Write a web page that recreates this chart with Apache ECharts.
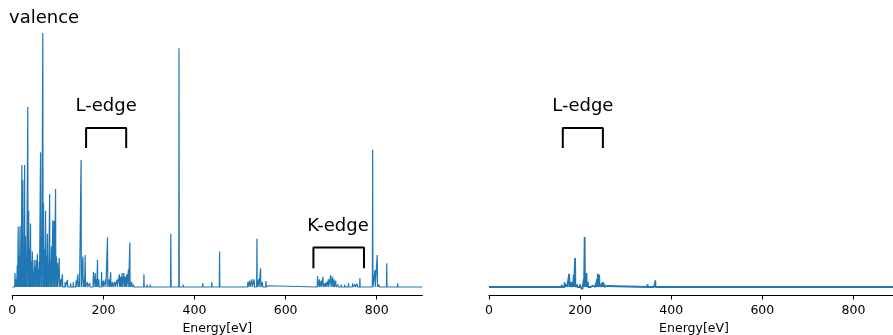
<!DOCTYPE html>
<html>
<head>
<meta charset="utf-8">
<script src="https://cdn.jsdelivr.net/npm/echarts@6/dist/echarts.min.js"></script>
<style>
  html, body { margin: 0; padding: 0; background: #fff; }
  #chart { width: 893px; height: 335px; }
</style>
</head>
<body>
<div id="chart"></div>
<script>
// 左图: valence 光谱峰位置(eV) 与强度
var valenceE = [6, 9, 11, 13, 15, 17, 19, 21, 23, 25, 27, 29, 31, 34, 36, 38, 40, 42, 44, 46, 48, 50, 52, 55, 57, 59,
  62, 64, 67, 68.5, 71, 73, 75, 77, 79, 82, 84, 86, 89, 92, 95, 97, 99, 103, 106, 110, 116, 121, 128, 134, 140, 144, 147,
  151, 155, 158, 160, 165, 170, 178, 182, 185, 187, 190, 196, 200, 205, 209, 213, 216, 220, 225, 230, 235, 238, 241, 245,
  248, 251, 255, 258, 262, 266, 275, 289, 296, 303, 318, 348, 366, 375, 395, 418, 438, 455, 480, 517, 521, 526, 531, 537,
  541, 545, 549, 557, 562, 670, 674, 678, 682, 686, 690, 694, 699, 703, 706, 710, 715, 722, 730, 738, 747, 752, 757, 763,
  791, 796, 801, 805, 822, 834, 846, 860]
var valenceI = [0.055, 0.03, 0.087, 0.237, 0.12, 0.24, 0.10, 0.48, 0.42, 0.146, 0.48, 0.2, 0.09, 0.71, 0.30, 0.15, 0.25, 0.1, 0.14, 0.06, 0.106, 0.08, 0.106, 0.13, 0.07, 0.10,
  0.53, 0.2, 1.0, 0.33, 0.15, 0.30, 0.12, 0.21, 0.09, 0.366, 0.1, 0.159, 0.264, 0.26, 0.386, 0.12, 0.094, 0.114, 0.03, 0.05, 0.02, 0.028, 0.015, 0.02, 0.025, 0.05, 0.02,
  0.50, 0.12, 0.03, 0.126, 0.02, 0.015, 0.06, 0.055, 0.03, 0.106, 0.03, 0.06, 0.025, 0.03, 0.196, 0.03, 0.058, 0.02, 0.02, 0.03, 0.05, 0.04, 0.055, 0.055,
  0.04, 0.05, 0.07, 0.175, 0.02, 0.01, 0.005, 0.05, 0.01, 0.01, 0.005, 0.21, 0.94, 0.01, 0.005, 0.015, 0.02, 0.14, 0.005, 0.02, 0.025, 0.03, 0.03, 0.19,
  0.03, 0.074, 0.02, 0.024, 0.005, 0.043, 0.03, 0.025, 0.04, 0.015, 0.02, 0.03, 0.047, 0.04, 0.03, 0.025, 0.01, 0.01, 0.01, 0.015, 0.015, 0.01, 0.012, 0.034,
  0.54, 0.067, 0.126, 0.01, 0.093, 0.005, 0.015, 0.005]

// 右图: L-edge 光谱
var edgeE = [24, 40, 55, 70, 85, 95, 152, 160, 166, 171, 176, 178, 181, 184, 186, 189, 193, 197, 200, 205, 208, 210, 212, 214,
  217, 220, 224, 228, 234, 237, 239, 242, 245, 248, 250, 253, 258, 348, 363, 365]
var edgeI = [0.004, 0.005, 0.004, 0.005, 0.004, 0.004, 0.006, 0.008, 0.018, 0.01, 0.052, 0.02, 0.02, 0.015, 0.048, 0.114, 0.01, 0.005, 0.01, -0.008, 0.031, 0.197, 0.05, 0.055,
  0.02, 0.005, -0.004, 0.005, 0.013, 0.03, 0.052, 0.048, 0.01, 0.015, 0.02, 0.012, 0.004, 0.01, 0.008, 0.026]

// 坐标轴刻度
var tickValues = [0, 200, 400, 600, 800]

// 注释: 括号范围(eV) 与 高度
var lEdgeRange = [162, 250]
var lEdgeLevel = [0.547, 0.626]
var lEdgeText = [206, 0.713]
var kEdgeRange = [661, 772]
var kEdgeLevel = [0.074, 0.156]
var kEdgeText = [715, 0.237]

// 把峰值列表转为尖峰折线
function spikes (xs, ys, tail) {
  var data = [[0, 0]]
  for (var i = 0; i < xs.length; i++) {
    data.push([xs[i] - 0.6, 0])
    data.push([xs[i], ys[i]])
    data.push([xs[i] + 0.6, 0])
  }
  data.push([tail, 0])
  return data
}

function bracket (range, level) {
  return [[range[0], level[0]], [range[0], level[1]], [range[1], level[1]], [range[1], level[0]]]
}

var font = 'DejaVu Sans'

function makeXAxis (gridIndex) {
  return {
    gridIndex: gridIndex,
    type: 'value',
    min: 0,
    max: 900,
    interval: 200,
    name: 'Energy[eV]',
    nameLocation: 'middle',
    nameGap: 24,
    nameTextStyle: { fontFamily: font, fontSize: 12.5, color: '#000' },
    axisLine: { show: true, onZero: false, lineStyle: { color: '#000', width: 1.2 } },
    axisTick: { show: true, length: 4.5, customValues: tickValues, lineStyle: { color: '#000', width: 1 } },
    axisLabel: { customValues: tickValues, fontFamily: font, fontSize: 12.5, color: '#000', margin: 9 },
    splitLine: { show: false }
  }
}

function makeYAxis (gridIndex) {
  return { gridIndex: gridIndex, type: 'value', min: -0.0315, max: 1.0, show: false }
}

function textMark (xi, pos, text) {
  return {
    type: 'scatter',
    xAxisIndex: xi,
    yAxisIndex: xi,
    symbolSize: 0,
    silent: true,
    data: [pos],
    itemStyle: { opacity: 1 },
    label: { show: true, position: 'inside', formatter: text, fontFamily: font, fontSize: 18, color: '#000' }
  }
}

function bracketLine (xi, range, level) {
  return {
    type: 'line',
    xAxisIndex: xi,
    yAxisIndex: xi,
    symbol: 'none',
    silent: true,
    data: bracket(range, level),
    lineStyle: { color: '#000', width: 2 }
  }
}

var chart = echarts.init(document.getElementById('chart'))
var options = {
  animation: false,
  title: {
    text: 'valence',
    left: 9,
    top: 9,
    padding: 0,
    textStyle: { fontFamily: font, fontSize: 18, fontWeight: 'normal', color: '#000' }
  },
  grid: [
    { left: 12.3, top: 33, width: 410, height: 262, outerBoundsMode: 'none' },
    { left: 489, top: 33, width: 410, height: 262, outerBoundsMode: 'none' }
  ],
  xAxis: [makeXAxis(0), makeXAxis(1)],
  yAxis: [makeYAxis(0), makeYAxis(1)],
  series: [
    {
      type: 'line',
      xAxisIndex: 0,
      yAxisIndex: 0,
      symbol: 'none',
      sampling: null,
      data: spikes(valenceE, valenceI, 900),
      lineStyle: { color: '#1f77b4', width: 1.2 }
    },
    {
      type: 'line',
      xAxisIndex: 1,
      yAxisIndex: 1,
      symbol: 'none',
      data: spikes(edgeE, edgeI, 900),
      lineStyle: { color: '#1f77b4', width: 1.8 }
    },
    bracketLine(0, lEdgeRange, lEdgeLevel),
    bracketLine(0, kEdgeRange, kEdgeLevel),
    bracketLine(1, lEdgeRange, lEdgeLevel),
    textMark(0, lEdgeText, 'L-edge'),
    textMark(0, kEdgeText, 'K-edge'),
    textMark(1, lEdgeText, 'L-edge')
  ]
}
chart.setOption(options, true)
</script>
</body>
</html>
